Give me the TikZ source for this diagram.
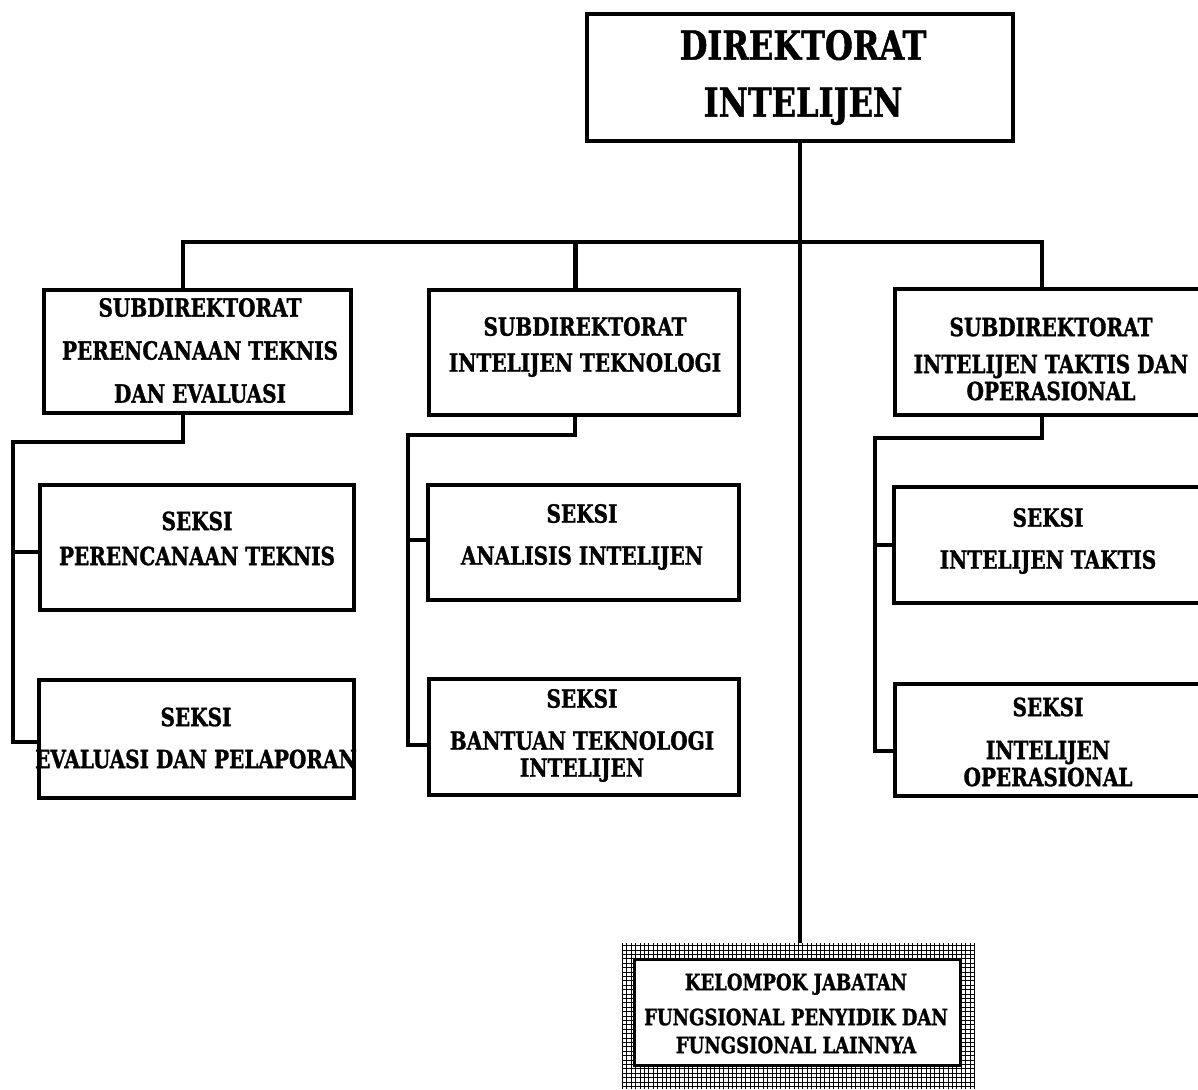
\documentclass[tikz,border=0pt]{standalone}
\usepackage{fontspec}
\usetikzlibrary{calc}
\newfontfamily\orgnarrow{DejaVu Serif}[FakeStretch=0.8, FakeBold=1.2]

\begin{document}
\begin{tikzpicture}[x=1pt,y=-1pt,
  unitbox/.style={draw, line width=4.5pt, rectangle, inner sep=0pt},
  wire/.style={line width=4.5pt},
  orgtext/.style={align=center, inner sep=0pt,
    font=\orgnarrow\bfseries\fontsize{25}{43}\selectfont},
  headtext/.style={align=center, inner sep=0pt,
    font=\orgnarrow\bfseries\fontsize{40}{57}\selectfont},
  grouptext/.style={align=center, inner sep=0pt,
    font=\orgnarrow\bfseries\fontsize{22.5}{31}\selectfont},
  gridframe/.style={rectangle, inner sep=0pt,
    path picture={\draw[black, line width=1pt, step=4.4pt]
      (path picture bounding box.south west) grid (path picture bounding box.north east);}},
]
\clip (0,0) rectangle (1198,1089);
\fill[white] (0,0) rectangle (1198,1089);

% directorate
\node[unitbox, minimum width=426pt, minimum height=127pt] (dir) at (800,77.5) {};
\node[headtext] (dirt) at (803,77.5) {DIREKTORAT\\INTELIJEN};

% sub-directorates
\node[unitbox, minimum width=307pt, minimum height=123pt] (sub1) at (197.5,351.5) {};
\node[unitbox, minimum width=310pt, minimum height=125pt] (sub2) at (584,352.5) {};
\node[unitbox, minimum width=310pt, minimum height=126pt] (sub3) at (1050,352) {};
\node[orgtext] (sub1t) at (200,350.5) {SUBDIREKTORAT\\PERENCANAAN TEKNIS\\DAN EVALUASI};
\node[orgtext] (sub2t) at (585,347) {SUBDIREKTORAT\\[-7pt]INTELIJEN TEKNOLOGI};
\node[orgtext] (sub3t) at (1051,359) {SUBDIREKTORAT\\[-6pt]INTELIJEN TAKTIS DAN\\[-16pt]OPERASIONAL};

% sections
\node[unitbox, minimum width=314pt, minimum height=125pt] (sec1a) at (197,547.5) {};
\node[unitbox, minimum width=315pt, minimum height=118pt] (sec1b) at (196.5,739) {};
\node[unitbox, minimum width=311pt, minimum height=115pt] (sec2a) at (583.5,542.5) {};
\node[unitbox, minimum width=310pt, minimum height=116pt] (sec2b) at (584,737) {};
\node[unitbox, minimum width=311pt, minimum height=116pt] (sec3a) at (1049.5,545) {};
\node[unitbox, minimum width=310pt, minimum height=112pt] (sec3b) at (1050,740) {};
\node[orgtext] (sec1at) at (197,538.5) {SEKSI\\[-8pt]PERENCANAAN TEKNIS};
\node[orgtext] (sec1bt) at (196,738) {SEKSI\\[-1pt]EVALUASI DAN PELAPORAN};
\node[orgtext] (sec2at) at (582,537) {SEKSI\\[-1pt]ANALISIS INTELIJEN};
\node[orgtext] (sec2bt) at (582,735.5) {SEKSI\\[-1pt]BANTUAN TEKNOLOGI\\[-16pt]INTELIJEN};
\node[orgtext] (sec3at) at (1048,541) {SEKSI\\[-1pt]INTELIJEN TAKTIS};
\node[orgtext] (sec3bt) at (1048,742) {SEKSI\\INTELIJEN\\[-16pt]OPERASIONAL};

% functional group
\node[gridframe, minimum width=353pt, minimum height=146pt] (grp) at (798.5,1016) {};
\node[draw, fill=white, line width=3pt, rectangle, inner sep=0pt,
      minimum width=326pt, minimum height=106pt] (grpin) at (797.5,1012.5) {};
\node[grouptext] (grpt) at (796,1013.5) {KELOMPOK JABATAN\\[4pt]FUNGSIONAL PENYIDIK DAN\\[-3pt]FUNGSIONAL LAINNYA};

% main trunk and bus
\coordinate (bus) at (800,242);
\draw[wire] (dir.south) -- (dir.south |- grp.north);
\coordinate (ltop) at ($(sub1.north)+(-14.5,0)$);
\coordinate (mtop) at ($(sub2.north)+(-8.5,0)$);
\coordinate (rtop) at ($(sub3.north)+(-8,0)$);
\draw[wire] (ltop) |- (bus) -| (rtop);
\draw[wire] (mtop) -- (mtop |- bus);

% section rails
\coordinate (ldrop) at ($(sub1.south)+(-14.5,0)$);
\coordinate (mdrop) at ($(sub2.south)+(-9,0)$);
\coordinate (rdrop) at ($(sub3.south)+(-8,0)$);
\coordinate (lrail) at (13,442);
\coordinate (mrail) at (408,435);
\coordinate (rrail) at (875,438);
\coordinate (lb1) at ($(sec1a.west)+(0,4.5)$);
\coordinate (lb2) at ($(sec1b.west)+(0,3)$);
\coordinate (mb1) at ($(sec2a.west)+(0,-2.5)$);
\coordinate (mb2) at ($(sec2b.west)+(0,8)$);
\coordinate (rb1) at ($(sec3a.west)+(0,0)$);
\coordinate (rb2) at ($(sec3b.west)+(0,11)$);
\draw[wire] (ldrop) |- (lrail) |- (lb2);
\draw[wire] (lrail |- lb1) -- (lb1);
\draw[wire] (mdrop) |- (mrail) |- (mb2);
\draw[wire] (mrail |- mb1) -- (mb1);
\draw[wire] (rdrop) |- (rrail) |- (rb2);
\draw[wire] (rrail |- rb1) -- (rb1);
\end{tikzpicture}
\end{document}
